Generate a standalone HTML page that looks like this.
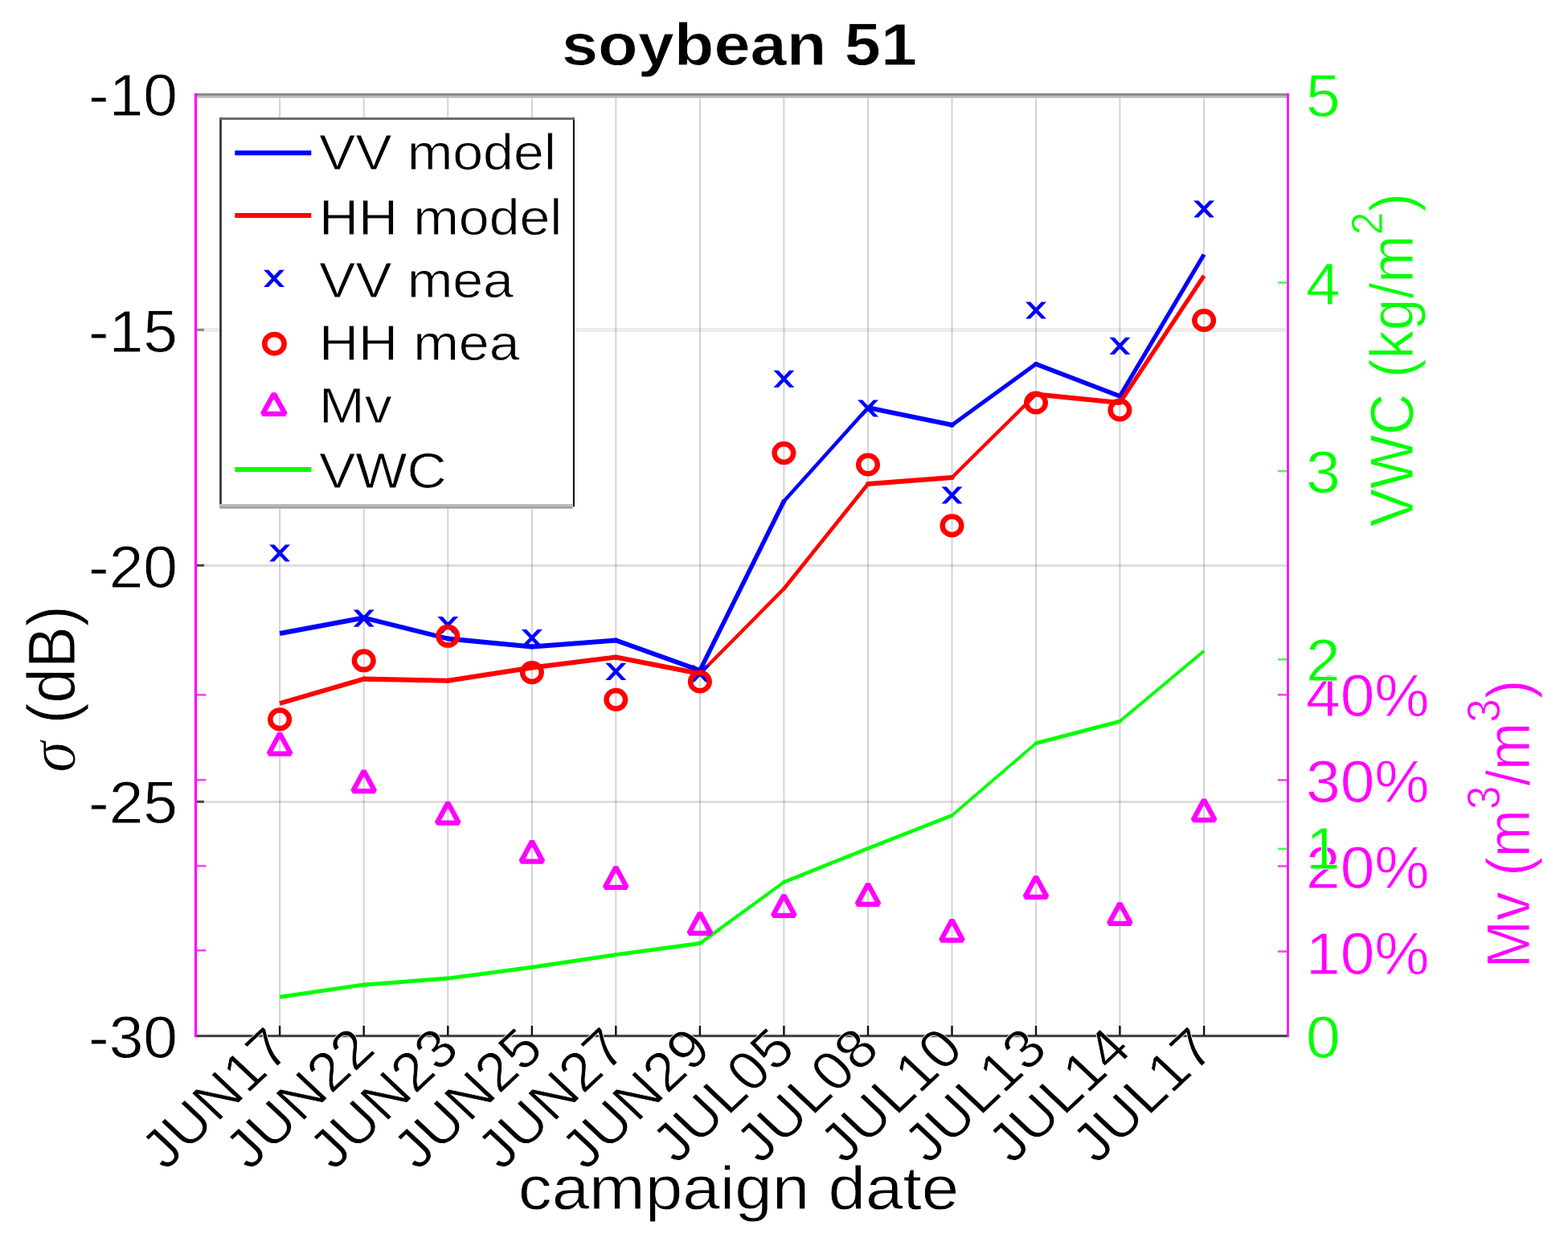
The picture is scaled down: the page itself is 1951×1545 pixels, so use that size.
<!DOCTYPE html><html><head><meta charset="utf-8"><title>soybean 51</title><style>html,body{margin:0;padding:0;background:#fff;overflow:hidden}svg{display:block} text{font-family:'Liberation Sans', Arial, Helvetica, sans-serif;stroke:#fff;stroke-width:0.8px}</style></head><body>
<svg width="1951" height="1545" viewBox="0 0 1951 1545">
<rect width="1951" height="1545" fill="#fff"/>
<line x1="348.1" y1="117.5" x2="348.1" y2="1288.7" stroke="#000" stroke-opacity="0.16" stroke-width="2.2"/>
<line x1="452.7" y1="117.5" x2="452.7" y2="1288.7" stroke="#000" stroke-opacity="0.16" stroke-width="2.2"/>
<line x1="557.3" y1="117.5" x2="557.3" y2="1288.7" stroke="#000" stroke-opacity="0.16" stroke-width="2.2"/>
<line x1="661.9" y1="117.5" x2="661.9" y2="1288.7" stroke="#000" stroke-opacity="0.16" stroke-width="2.2"/>
<line x1="766.3" y1="117.5" x2="766.3" y2="1288.7" stroke="#000" stroke-opacity="0.16" stroke-width="2.2"/>
<line x1="870.9" y1="117.5" x2="870.9" y2="1288.7" stroke="#000" stroke-opacity="0.16" stroke-width="2.2"/>
<line x1="975.4" y1="117.5" x2="975.4" y2="1288.7" stroke="#000" stroke-opacity="0.16" stroke-width="2.2"/>
<line x1="1080.0" y1="117.5" x2="1080.0" y2="1288.7" stroke="#000" stroke-opacity="0.16" stroke-width="2.2"/>
<line x1="1184.5" y1="117.5" x2="1184.5" y2="1288.7" stroke="#000" stroke-opacity="0.16" stroke-width="2.2"/>
<line x1="1289.0" y1="117.5" x2="1289.0" y2="1288.7" stroke="#000" stroke-opacity="0.16" stroke-width="2.2"/>
<line x1="1393.4" y1="117.5" x2="1393.4" y2="1288.7" stroke="#000" stroke-opacity="0.16" stroke-width="2.2"/>
<line x1="1498.1" y1="117.5" x2="1498.1" y2="1288.7" stroke="#000" stroke-opacity="0.16" stroke-width="2.2"/>
<line x1="243.5" y1="410.6" x2="1602.5" y2="410.6" stroke="#000" stroke-opacity="0.075" stroke-width="5"/>
<line x1="243.5" y1="703.4" x2="1602.5" y2="703.4" stroke="#000" stroke-opacity="0.125" stroke-width="3"/>
<line x1="243.5" y1="997.5" x2="1602.5" y2="997.5" stroke="#000" stroke-opacity="0.125" stroke-width="3"/>
<g><line x1="348.1" y1="1240.3" x2="452.7" y2="1224.9" stroke="#00ff00" stroke-width="4.95"/><line x1="452.7" y1="1224.9" x2="557.3" y2="1217.1" stroke="#00ff00" stroke-width="4.99"/><line x1="557.3" y1="1217.1" x2="661.9" y2="1203.3" stroke="#00ff00" stroke-width="4.96"/><line x1="661.9" y1="1203.3" x2="766.3" y2="1187.6" stroke="#00ff00" stroke-width="4.94"/><line x1="766.3" y1="1187.6" x2="870.9" y2="1173.5" stroke="#00ff00" stroke-width="4.96"/><line x1="870.9" y1="1173.5" x2="975.4" y2="1097.4" stroke="#00ff00" stroke-width="4.04"/><line x1="975.4" y1="1097.4" x2="1080.0" y2="1055.4" stroke="#00ff00" stroke-width="4.64"/><line x1="1080.0" y1="1055.4" x2="1184.5" y2="1014.4" stroke="#00ff00" stroke-width="4.65"/><line x1="1184.5" y1="1014.4" x2="1289.0" y2="924.6" stroke="#00ff00" stroke-width="3.79"/><line x1="1289.0" y1="924.6" x2="1393.4" y2="897.3" stroke="#00ff00" stroke-width="4.84"/><line x1="1393.4" y1="897.3" x2="1498.1" y2="809.7" stroke="#00ff00" stroke-width="3.83"/><circle cx="452.7" cy="1224.9" r="2.49" fill="#00ff00"/><circle cx="557.3" cy="1217.1" r="2.49" fill="#00ff00"/><circle cx="661.9" cy="1203.3" r="2.48" fill="#00ff00"/><circle cx="766.3" cy="1187.6" r="2.48" fill="#00ff00"/><circle cx="870.9" cy="1173.5" r="2.48" fill="#00ff00"/><circle cx="975.4" cy="1097.4" r="2.32" fill="#00ff00"/><circle cx="1080.0" cy="1055.4" r="2.33" fill="#00ff00"/><circle cx="1184.5" cy="1014.4" r="2.33" fill="#00ff00"/><circle cx="1289.0" cy="924.6" r="2.42" fill="#00ff00"/><circle cx="1393.4" cy="897.3" r="2.42" fill="#00ff00"/></g>
<g><line x1="348.1" y1="788.0" x2="452.7" y2="768.5" stroke="#0000ff" stroke-width="6.00"/><line x1="452.7" y1="768.5" x2="557.3" y2="794.5" stroke="#0000ff" stroke-width="5.92"/><line x1="557.3" y1="794.5" x2="661.9" y2="804.5" stroke="#0000ff" stroke-width="6.07"/><line x1="661.9" y1="804.5" x2="766.3" y2="796.5" stroke="#0000ff" stroke-width="6.08"/><line x1="766.3" y1="796.5" x2="870.9" y2="834.0" stroke="#0000ff" stroke-width="5.74"/><line x1="870.9" y1="834.0" x2="975.4" y2="623.5" stroke="#0000ff" stroke-width="5.46"/><line x1="975.4" y1="623.5" x2="1080.0" y2="507.2" stroke="#0000ff" stroke-width="4.54"/><line x1="1080.0" y1="507.2" x2="1184.5" y2="528.7" stroke="#0000ff" stroke-width="5.97"/><line x1="1184.5" y1="528.7" x2="1289.0" y2="452.8" stroke="#0000ff" stroke-width="4.94"/><line x1="1289.0" y1="452.8" x2="1393.4" y2="492.8" stroke="#0000ff" stroke-width="5.70"/><line x1="1393.4" y1="492.8" x2="1498.1" y2="316.5" stroke="#0000ff" stroke-width="5.24"/><circle cx="452.7" cy="768.5" r="3.00" fill="#0000ff"/><circle cx="557.3" cy="794.5" r="3.04" fill="#0000ff"/><circle cx="661.9" cy="804.5" r="3.04" fill="#0000ff"/><circle cx="766.3" cy="796.5" r="3.04" fill="#0000ff"/><circle cx="870.9" cy="834.0" r="2.87" fill="#0000ff"/><circle cx="975.4" cy="623.5" r="2.73" fill="#0000ff"/><circle cx="1080.0" cy="507.2" r="2.99" fill="#0000ff"/><circle cx="1184.5" cy="528.7" r="2.99" fill="#0000ff"/><circle cx="1289.0" cy="452.8" r="2.85" fill="#0000ff"/><circle cx="1393.4" cy="492.8" r="2.85" fill="#0000ff"/></g>
<g><line x1="348.1" y1="875.0" x2="452.7" y2="844.6" stroke="#ff0000" stroke-width="5.86"/><line x1="452.7" y1="844.6" x2="557.3" y2="846.7" stroke="#ff0000" stroke-width="6.10"/><line x1="557.3" y1="846.7" x2="661.9" y2="830.5" stroke="#ff0000" stroke-width="6.03"/><line x1="661.9" y1="830.5" x2="766.3" y2="817.5" stroke="#ff0000" stroke-width="6.05"/><line x1="766.3" y1="817.5" x2="870.9" y2="838.0" stroke="#ff0000" stroke-width="5.99"/><line x1="870.9" y1="838.0" x2="975.4" y2="732.4" stroke="#ff0000" stroke-width="4.34"/><line x1="975.4" y1="732.4" x2="1080.0" y2="602.0" stroke="#ff0000" stroke-width="4.76"/><line x1="1080.0" y1="602.0" x2="1184.5" y2="594.0" stroke="#ff0000" stroke-width="6.08"/><line x1="1184.5" y1="594.0" x2="1289.0" y2="490.5" stroke="#ff0000" stroke-width="4.33"/><line x1="1289.0" y1="490.5" x2="1393.4" y2="501.0" stroke="#ff0000" stroke-width="6.07"/><line x1="1393.4" y1="501.0" x2="1498.1" y2="343.0" stroke="#ff0000" stroke-width="5.08"/><circle cx="452.7" cy="844.6" r="3.05" fill="#ff0000"/><circle cx="557.3" cy="846.7" r="3.05" fill="#ff0000"/><circle cx="661.9" cy="830.5" r="3.03" fill="#ff0000"/><circle cx="766.3" cy="817.5" r="3.03" fill="#ff0000"/><circle cx="870.9" cy="838.0" r="2.99" fill="#ff0000"/><circle cx="975.4" cy="732.4" r="2.38" fill="#ff0000"/><circle cx="1080.0" cy="602.0" r="3.04" fill="#ff0000"/><circle cx="1184.5" cy="594.0" r="3.04" fill="#ff0000"/><circle cx="1289.0" cy="490.5" r="3.03" fill="#ff0000"/><circle cx="1393.4" cy="501.0" r="3.03" fill="#ff0000"/></g>
<path d="M335.1,677.4L341.3,677.4L361.1,698.6L354.9,698.6ZM354.9,677.4L361.1,677.4L341.3,698.6L335.1,698.6Z" fill="#0000ff"/>
<path d="M439.7,758.6L445.9,758.6L465.7,779.8L459.5,779.8ZM459.5,758.6L465.7,758.6L445.9,779.8L439.7,779.8Z" fill="#0000ff"/>
<path d="M544.3,767.1L550.5,767.1L570.3,788.3L564.1,788.3ZM564.1,767.1L570.3,767.1L550.5,788.3L544.3,788.3Z" fill="#0000ff"/>
<path d="M648.9,782.9L655.1,782.9L674.9,804.1L668.7,804.1ZM668.7,782.9L674.9,782.9L655.1,804.1L648.9,804.1Z" fill="#0000ff"/>
<path d="M753.3,824.8L759.5,824.8L779.3,846.0L773.1,846.0ZM773.1,824.8L779.3,824.8L759.5,846.0L753.3,846.0Z" fill="#0000ff"/>
<path d="M857.9,827.4L864.1,827.4L883.9,848.6L877.7,848.6ZM877.7,827.4L883.9,827.4L864.1,848.6L857.9,848.6Z" fill="#0000ff"/>
<path d="M962.4,460.7L968.6,460.7L988.4,481.9L982.2,481.9ZM982.2,460.7L988.4,460.7L968.6,481.9L962.4,481.9Z" fill="#0000ff"/>
<path d="M1067.0,497.4L1073.2,497.4L1093.0,518.6L1086.8,518.6ZM1086.8,497.4L1093.0,497.4L1073.2,518.6L1067.0,518.6Z" fill="#0000ff"/>
<path d="M1171.5,605.4L1177.7,605.4L1197.5,626.6L1191.3,626.6ZM1191.3,605.4L1197.5,605.4L1177.7,626.6L1171.5,626.6Z" fill="#0000ff"/>
<path d="M1276.0,375.4L1282.2,375.4L1302.0,396.6L1295.8,396.6ZM1295.8,375.4L1302.0,375.4L1282.2,396.6L1276.0,396.6Z" fill="#0000ff"/>
<path d="M1380.4,419.7L1386.6,419.7L1406.4,440.9L1400.2,440.9ZM1400.2,419.7L1406.4,419.7L1386.6,440.9L1380.4,440.9Z" fill="#0000ff"/>
<path d="M1485.1,249.4L1491.3,249.4L1511.1,270.6L1504.9,270.6ZM1504.9,249.4L1511.1,249.4L1491.3,270.6L1485.1,270.6Z" fill="#0000ff"/>
<ellipse cx="348.1" cy="894.9" rx="11.8" ry="11.3" stroke="#ff0000" stroke-width="6.5" fill="none"/>
<ellipse cx="452.7" cy="821.8" rx="11.8" ry="11.3" stroke="#ff0000" stroke-width="6.5" fill="none"/>
<ellipse cx="557.3" cy="791.3" rx="11.8" ry="11.3" stroke="#ff0000" stroke-width="6.5" fill="none"/>
<ellipse cx="661.9" cy="836.6" rx="11.8" ry="11.3" stroke="#ff0000" stroke-width="6.5" fill="none"/>
<ellipse cx="766.3" cy="870.3" rx="11.8" ry="11.3" stroke="#ff0000" stroke-width="6.5" fill="none"/>
<ellipse cx="870.9" cy="848.0" rx="11.8" ry="11.3" stroke="#ff0000" stroke-width="6.5" fill="none"/>
<ellipse cx="975.4" cy="563.6" rx="11.8" ry="11.3" stroke="#ff0000" stroke-width="6.5" fill="none"/>
<ellipse cx="1080.0" cy="578.0" rx="11.8" ry="11.3" stroke="#ff0000" stroke-width="6.5" fill="none"/>
<ellipse cx="1184.5" cy="653.9" rx="11.8" ry="11.3" stroke="#ff0000" stroke-width="6.5" fill="none"/>
<ellipse cx="1289.0" cy="501.0" rx="11.8" ry="11.3" stroke="#ff0000" stroke-width="6.5" fill="none"/>
<ellipse cx="1393.4" cy="510.0" rx="11.8" ry="11.3" stroke="#ff0000" stroke-width="6.5" fill="none"/>
<ellipse cx="1498.1" cy="398.5" rx="11.8" ry="11.3" stroke="#ff0000" stroke-width="6.5" fill="none"/>
<path d="M348.1,912.4L361.7,937.6L334.5,937.6Z" stroke="#ff00ff" stroke-width="6.2" stroke-linejoin="bevel" fill="none"/>
<path d="M452.7,959.0L466.3,984.2L439.1,984.2Z" stroke="#ff00ff" stroke-width="6.2" stroke-linejoin="bevel" fill="none"/>
<path d="M557.3,998.5L570.9,1023.7L543.7,1023.7Z" stroke="#ff00ff" stroke-width="6.2" stroke-linejoin="bevel" fill="none"/>
<path d="M661.9,1046.5L675.5,1071.7L648.3,1071.7Z" stroke="#ff00ff" stroke-width="6.2" stroke-linejoin="bevel" fill="none"/>
<path d="M766.3,1078.7L779.9,1103.9L752.7,1103.9Z" stroke="#ff00ff" stroke-width="6.2" stroke-linejoin="bevel" fill="none"/>
<path d="M870.9,1135.7L884.5,1160.9L857.3,1160.9Z" stroke="#ff00ff" stroke-width="6.2" stroke-linejoin="bevel" fill="none"/>
<path d="M975.4,1113.7L989.0,1138.9L961.8,1138.9Z" stroke="#ff00ff" stroke-width="6.2" stroke-linejoin="bevel" fill="none"/>
<path d="M1080.0,1099.6L1093.6,1124.8L1066.4,1124.8Z" stroke="#ff00ff" stroke-width="6.2" stroke-linejoin="bevel" fill="none"/>
<path d="M1184.5,1144.4L1198.1,1169.6L1170.9,1169.6Z" stroke="#ff00ff" stroke-width="6.2" stroke-linejoin="bevel" fill="none"/>
<path d="M1289.0,1090.6L1302.6,1115.8L1275.4,1115.8Z" stroke="#ff00ff" stroke-width="6.2" stroke-linejoin="bevel" fill="none"/>
<path d="M1393.4,1123.6L1407.0,1148.8L1379.8,1148.8Z" stroke="#ff00ff" stroke-width="6.2" stroke-linejoin="bevel" fill="none"/>
<path d="M1498.1,994.9L1511.7,1020.1L1484.5,1020.1Z" stroke="#ff00ff" stroke-width="6.2" stroke-linejoin="bevel" fill="none"/>
<rect x="243.5" y="116" width="1359.0" height="3" fill="#8c8c8c"/>
<rect x="243.5" y="119" width="1359.0" height="2.8" fill="#b8b8b8"/>
<rect x="243.5" y="1287.2" width="1359.0" height="3" fill="#3c3c3c"/>
<rect x="245" y="408.8" width="9" height="3" fill="#888"/>
<rect x="245" y="701.8" width="9" height="3" fill="#444"/>
<rect x="245" y="995.8" width="9" height="3" fill="#444"/>
<rect x="245" y="863.1" width="11.5" height="2.6" fill="#ff00ff" fill-opacity="0.75"/>
<rect x="245" y="968.9000000000001" width="11.5" height="2.6" fill="#ff00ff" fill-opacity="0.75"/>
<rect x="245" y="1075.9" width="11.5" height="2.6" fill="#ff00ff" fill-opacity="0.75"/>
<rect x="245" y="1181.0" width="11.5" height="2.6" fill="#ff00ff" fill-opacity="0.75"/>
<rect x="346.90000000000003" y="1276" width="2.4" height="12" fill="#111"/>
<rect x="451.5" y="1276" width="2.4" height="12" fill="#111"/>
<rect x="556.0999999999999" y="1276" width="2.4" height="12" fill="#111"/>
<rect x="660.6999999999999" y="1276" width="2.4" height="12" fill="#111"/>
<rect x="765.0999999999999" y="1276" width="2.4" height="12" fill="#111"/>
<rect x="869.6999999999999" y="1276" width="2.4" height="12" fill="#111"/>
<rect x="974.1999999999999" y="1276" width="2.4" height="12" fill="#111"/>
<rect x="1078.8" y="1276" width="2.4" height="12" fill="#111"/>
<rect x="1183.3" y="1276" width="2.4" height="12" fill="#111"/>
<rect x="1287.8" y="1276" width="2.4" height="12" fill="#111"/>
<rect x="1392.2" y="1276" width="2.4" height="12" fill="#111"/>
<rect x="1496.8999999999999" y="1276" width="2.4" height="12" fill="#111"/>
<rect x="1590" y="350.3" width="11.5" height="2.6" fill="#00ff00" fill-opacity="0.7"/>
<rect x="1590" y="584.7" width="11.5" height="2.6" fill="#00ff00" fill-opacity="0.7"/>
<rect x="1590" y="819.1" width="11.5" height="2.6" fill="#00ff00" fill-opacity="0.7"/>
<rect x="1590" y="1054.6000000000001" width="11.5" height="2.6" fill="#00ff00" fill-opacity="0.7"/>
<rect x="1590" y="863.0" width="11.5" height="2.6" fill="#ff00ff" fill-opacity="0.75"/>
<rect x="1590" y="969.1" width="11.5" height="2.6" fill="#ff00ff" fill-opacity="0.75"/>
<rect x="1590" y="1076.2" width="11.5" height="2.6" fill="#ff00ff" fill-opacity="0.75"/>
<rect x="1590" y="1182.3" width="11.5" height="2.6" fill="#ff00ff" fill-opacity="0.75"/>
<rect x="241.9" y="116" width="3.2" height="1174.3" fill="#ff00ff"/>
<rect x="1601.2" y="116" width="2.6" height="1174.3" fill="#ff00ff"/>
<rect x="274.5" y="147.5" width="439" height="482" fill="#fff"/>
<rect x="273.2" y="146.2" width="2.6" height="484" fill="#282828"/>
<rect x="712.9" y="146.2" width="2.1" height="484" fill="#111"/>
<rect x="273.2" y="146.2" width="441.8" height="2.9" fill="#666"/>
<rect x="273.2" y="627" width="439.5" height="3" fill="#bbb"/>
<rect x="273.2" y="630" width="439.5" height="2.7" fill="#a3a3a3"/>
<line x1="292.3" y1="190.3" x2="387.3" y2="190.3" stroke="#0000ff" stroke-width="6"/>
<line x1="292.3" y1="268" x2="387.3" y2="268" stroke="#ff0000" stroke-width="6"/>
<path d="M328.0,335.7L334.2,335.7L354.0,356.9L347.8,356.9ZM347.8,335.7L354.0,335.7L334.2,356.9L328.0,356.9Z" fill="#0000ff"/>
<ellipse cx="341.4" cy="427.7" rx="12.2" ry="11.7" stroke="#ff0000" stroke-width="6.5" fill="none"/>
<path d="M340.8,489.7L354.8,514.9L326.8,514.9Z" stroke="#ff00ff" stroke-width="6.2" stroke-linejoin="bevel" fill="none"/>
<line x1="292.3" y1="584" x2="387.3" y2="584" stroke="#00ff00" stroke-width="6"/>
<text transform="translate(397.0,210.6) scale(1.08,1)" font-size="63" text-anchor="start" fill="#000" font-weight="normal">VV model</text>
<text transform="translate(397.0,291.5) scale(1.08,1)" font-size="63" text-anchor="start" fill="#000" font-weight="normal">HH model</text>
<text transform="translate(397.0,369.8) scale(1.08,1)" font-size="63" text-anchor="start" fill="#000" font-weight="normal">VV mea</text>
<text transform="translate(397.0,447.6) scale(1.08,1)" font-size="63" text-anchor="start" fill="#000" font-weight="normal">HH mea</text>
<text transform="translate(397.0,526.1) scale(1.08,1)" font-size="63" text-anchor="start" fill="#000" font-weight="normal">Mv</text>
<text transform="translate(397.0,606.7) scale(1.08,1)" font-size="63" text-anchor="start" fill="#000" font-weight="normal">VWC</text>
<text transform="translate(221.0,143.5) scale(1.03,1)" font-size="74.5" text-anchor="end" fill="#000" font-weight="normal">-10</text>
<text transform="translate(221.0,438.0) scale(1.03,1)" font-size="74.5" text-anchor="end" fill="#000" font-weight="normal">-15</text>
<text transform="translate(221.0,731.0) scale(1.03,1)" font-size="74.5" text-anchor="end" fill="#000" font-weight="normal">-20</text>
<text transform="translate(221.0,1023.5) scale(1.03,1)" font-size="74.5" text-anchor="end" fill="#000" font-weight="normal">-25</text>
<text transform="translate(221.0,1315.5) scale(1.03,1)" font-size="74.5" text-anchor="end" fill="#000" font-weight="normal">-30</text>
<text transform="translate(1625.0,890.5) scale(1.03,1)" font-size="74.5" text-anchor="start" fill="#ff00ff" font-weight="normal">40%</text>
<text transform="translate(1625.0,998.0) scale(1.03,1)" font-size="74.5" text-anchor="start" fill="#ff00ff" font-weight="normal">30%</text>
<text transform="translate(1625.0,1105.0) scale(1.03,1)" font-size="74.5" text-anchor="start" fill="#ff00ff" font-weight="normal">20%</text>
<text transform="translate(1625.0,1212.0) scale(1.03,1)" font-size="74.5" text-anchor="start" fill="#ff00ff" font-weight="normal">10%</text>
<text transform="translate(1625.0,144.5) scale(1.03,1)" font-size="74.5" text-anchor="start" fill="#00ff00" font-weight="normal">5</text>
<text transform="translate(1625.0,378.5) scale(1.03,1)" font-size="74.5" text-anchor="start" fill="#00ff00" font-weight="normal">4</text>
<text transform="translate(1625.0,613.0) scale(1.03,1)" font-size="74.5" text-anchor="start" fill="#00ff00" font-weight="normal">3</text>
<text transform="translate(1625.0,846.5) scale(1.03,1)" font-size="74.5" text-anchor="start" fill="#00ff00" font-weight="normal">2</text>
<text transform="translate(1625.0,1081.0) scale(1.03,1)" font-size="74.5" text-anchor="start" fill="#00ff00" font-weight="normal">1</text>
<text transform="translate(1625.0,1316.0) scale(1.03,1)" font-size="74.5" text-anchor="start" fill="#00ff00" font-weight="normal">0</text>
<text transform="translate(365.4,1307.5) scale(1.065,1) rotate(-45)" font-size="68.3" text-anchor="end" fill="#000" font-weight="normal" letter-spacing="0.6">JUN17</text>
<text transform="translate(470.0,1307.5) scale(1.065,1) rotate(-45)" font-size="68.3" text-anchor="end" fill="#000" font-weight="normal" letter-spacing="0.6">JUN22</text>
<text transform="translate(574.6,1307.5) scale(1.065,1) rotate(-45)" font-size="68.3" text-anchor="end" fill="#000" font-weight="normal" letter-spacing="0.6">JUN23</text>
<text transform="translate(679.2,1307.5) scale(1.065,1) rotate(-45)" font-size="68.3" text-anchor="end" fill="#000" font-weight="normal" letter-spacing="0.6">JUN25</text>
<text transform="translate(783.6,1307.5) scale(1.065,1) rotate(-45)" font-size="68.3" text-anchor="end" fill="#000" font-weight="normal" letter-spacing="0.6">JUN27</text>
<text transform="translate(888.2,1307.5) scale(1.065,1) rotate(-45)" font-size="68.3" text-anchor="end" fill="#000" font-weight="normal" letter-spacing="0.6">JUN29</text>
<text transform="translate(992.7,1307.5) scale(1.065,1) rotate(-45)" font-size="68.3" text-anchor="end" fill="#000" font-weight="normal" letter-spacing="0.6">JUL05</text>
<text transform="translate(1097.3,1307.5) scale(1.065,1) rotate(-45)" font-size="68.3" text-anchor="end" fill="#000" font-weight="normal" letter-spacing="0.6">JUL08</text>
<text transform="translate(1201.8,1307.5) scale(1.065,1) rotate(-45)" font-size="68.3" text-anchor="end" fill="#000" font-weight="normal" letter-spacing="0.6">JUL10</text>
<text transform="translate(1306.3,1307.5) scale(1.065,1) rotate(-45)" font-size="68.3" text-anchor="end" fill="#000" font-weight="normal" letter-spacing="0.6">JUL13</text>
<text transform="translate(1410.7,1307.5) scale(1.065,1) rotate(-45)" font-size="68.3" text-anchor="end" fill="#000" font-weight="normal" letter-spacing="0.6">JUL14</text>
<text transform="translate(1515.4,1307.5) scale(1.065,1) rotate(-45)" font-size="68.3" text-anchor="end" fill="#000" font-weight="normal" letter-spacing="0.6">JUL17</text>
<text transform="translate(920.0,80.8) scale(1.097,1)" font-size="74" text-anchor="middle" fill="#000" font-weight="bold">soybean 51</text>
<text transform="translate(919.0,1504.0) scale(1.1,1)" font-size="76" text-anchor="middle" fill="#000" font-weight="normal">campaign date</text>
<text transform="translate(93.0,857.0) scale(1.08,1) rotate(-90)" font-size="78" text-anchor="middle" fill="#000" font-weight="normal"><tspan font-family="'Liberation Serif', serif" font-style="italic">σ</tspan> (dB)</text>
<text transform="translate(1757.7,447.7) scale(1.08,1) rotate(-90)" font-size="71" text-anchor="middle" fill="#00ff00" font-weight="normal">VWC (kg/m<tspan font-size="52" dy="-34.5">2</tspan><tspan dy="34.5">)</tspan></text>
<text transform="translate(1903.3,1024.9) scale(1.08,1) rotate(-90)" font-size="71" text-anchor="middle" fill="#ff00ff" font-weight="normal">Mv (m<tspan font-size="53" dy="-35">3</tspan><tspan dy="35">/m</tspan><tspan font-size="53" dy="-35">3</tspan><tspan dy="35">)</tspan></text>
</svg></body></html>
